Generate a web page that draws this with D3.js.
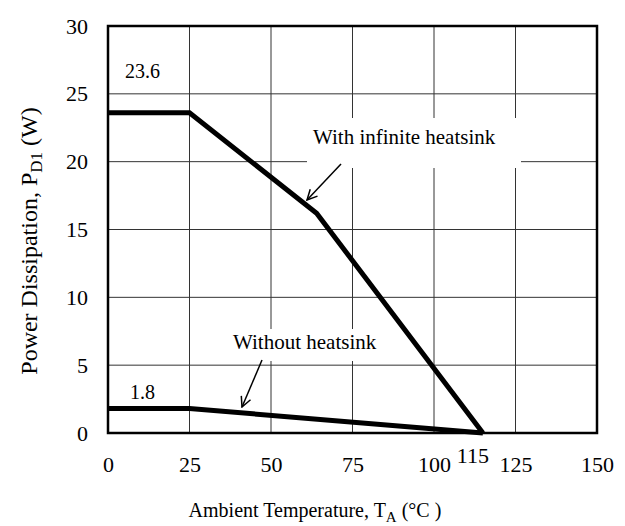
<!DOCTYPE html>
<html>
<head>
<meta charset="utf-8">
<script src="https://cdn.jsdelivr.net/npm/d3@7"></script>
<style>
  body { margin: 0; background: #fff; }
  text { font-family: "Liberation Serif", "Times New Roman", serif; fill: #000; }
</style>
</head>
<body>
<div id="chart"></div>
<script>
// curve data
let tempInf = [0, 25, 64, 115]
let powerInf = [23.6, 23.6, 16.2, 0]
let tempNo = [0, 25, 115]
let powerNo = [1.8, 1.8, 0]
let xTicks = [0, 25, 50, 75, 100, 125, 150]
let yTicks = [0, 5, 10, 15, 20, 25, 30]

let width = 625, height = 526
let margin = {left: 108, right: 28, top: 26, bottom: 93}

let svg = d3.select("#chart").append("svg")
  .attr("width", width)
  .attr("height", height)

let x = d3.scaleLinear().domain([0, 150]).range([margin.left, width - margin.right])
let y = d3.scaleLinear().domain([0, 30]).range([height - margin.bottom, margin.top])

// grid
svg.append("g").selectAll("line.v")
  .data(xTicks.slice(1, -1)).enter().append("line")
  .attr("x1", d => x(d)).attr("x2", d => x(d))
  .attr("y1", y(30)).attr("y2", y(0))
  .attr("stroke", "#333").attr("stroke-width", 1)
svg.append("g").selectAll("line.h")
  .data(yTicks.slice(1, -1)).enter().append("line")
  .attr("x1", x(0)).attr("x2", x(150))
  .attr("y1", d => y(d)).attr("y2", d => y(d))
  .attr("stroke", "#333").attr("stroke-width", 1)

// white boxes behind the labels
svg.append("rect").attr("x", 307).attr("y", 118).attr("width", 214).attr("height", 50).attr("fill", "#fff")
svg.append("rect").attr("x", 228).attr("y", 329).attr("width", 154).attr("height", 32).attr("fill", "#fff")

let line = d3.line().x(d => x(d[0])).y(d => y(d[1]))

svg.append("path")
  .attr("d", line(tempInf.map((t, i) => [t, powerInf[i]])))
  .attr("fill", "none").attr("stroke", "#000").attr("stroke-width", 5)
svg.append("path")
  .attr("d", line(tempNo.map((t, i) => [t, powerNo[i]])))
  .attr("fill", "none").attr("stroke", "#000").attr("stroke-width", 5)

// frame
svg.append("rect")
  .attr("x", x(0)).attr("y", y(30))
  .attr("width", x(150) - x(0)).attr("height", y(0) - y(30))
  .attr("fill", "none").attr("stroke", "#000").attr("stroke-width", 2.5)

// axes
let xAxis = svg.append("g")
  .attr("transform", "translate(0," + y(0) + ")")
  .call(d3.axisBottom(x).tickValues(xTicks).tickSize(0).tickPadding(23))
xAxis.select(".domain").remove()
xAxis.selectAll("text").attr("font-size", "22px").attr("font-family", "Liberation Serif")

let yAxis = svg.append("g")
  .attr("transform", "translate(" + x(0) + ",0)")
  .call(d3.axisLeft(y).tickValues(yTicks).tickSize(0).tickPadding(20))
yAxis.select(".domain").remove()
yAxis.selectAll("text").attr("font-size", "22px").attr("font-family", "Liberation Serif")

svg.append("text")
  .attr("x", x(115) - 10).attr("y", 463)
  .attr("text-anchor", "middle").attr("font-size", "22px")
  .text("115")

// value labels
svg.append("text").attr("x", 125).attr("y", 78).attr("font-size", "20px").text("23.6")
svg.append("text").attr("x", 130).attr("y", 399).attr("font-size", "20px").text("1.8")

svg.append("text").attr("x", 313).attr("y", 144).attr("font-size", "21px").text("With infinite heatsink")
svg.append("text").attr("x", 233).attr("y", 349).attr("font-size", "21px").text("Without heatsink")

// arrows
svg.append("defs").append("marker")
  .attr("id", "arr").attr("viewBox", "0 0 12 12")
  .attr("refX", 11).attr("refY", 6)
  .attr("markerWidth", 12).attr("markerHeight", 12)
  .attr("markerUnits", "userSpaceOnUse")
  .attr("orient", "auto")
  .append("path").attr("d", "M1,1 L11,6 L1,11")
  .attr("fill", "none").attr("stroke", "#000").attr("stroke-width", 1.5)

svg.append("line").attr("x1", 341).attr("y1", 164).attr("x2", 307).attr("y2", 200)
  .attr("stroke", "#000").attr("stroke-width", 1.5).attr("marker-end", "url(#arr)")
svg.append("line").attr("x1", 262).attr("y1", 360).attr("x2", 242).attr("y2", 407)
  .attr("stroke", "#000").attr("stroke-width", 1.5).attr("marker-end", "url(#arr)")

// axis titles
let xt = svg.append("text")
  .attr("x", 315).attr("y", 517)
  .attr("text-anchor", "middle").attr("font-size", "20px")
xt.append("tspan").text("Ambient Temperature, T")
xt.append("tspan").attr("dy", 5).attr("font-size", "15px").text("A")
xt.append("tspan").attr("dy", -5).text(" (°C )")

let yt = svg.append("text")
  .attr("transform", "translate(37,241) rotate(-90)")
  .attr("text-anchor", "middle").attr("font-size", "24px")
yt.append("tspan").text("Power Dissipation, P")
yt.append("tspan").attr("dy", 5).attr("font-size", "17px").text("D1")
yt.append("tspan").attr("dy", -5).text(" (W)")
</script>
</body>
</html>
